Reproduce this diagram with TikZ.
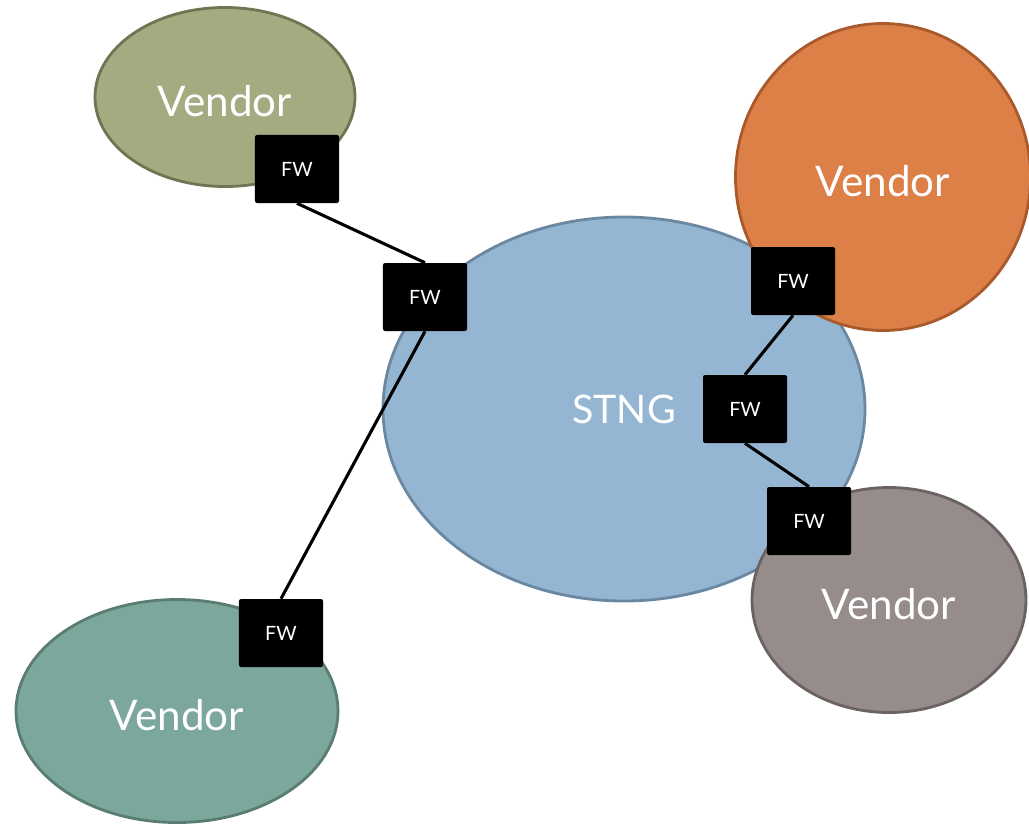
\documentclass[tikz,border=0pt]{standalone}
\usepackage{fontspec}
\setmainfont{Lato}
\usepackage{tikz}
\usetikzlibrary{shapes.geometric}
\usepackage{xcolor}
\definecolor{stngblue}{HTML}{94B6D2}
\definecolor{stngblueline}{HTML}{6B88A2}
\definecolor{olive}{HTML}{A5AB81}
\definecolor{oliveline}{HTML}{6E7552}
\definecolor{pumpkin}{HTML}{DD8047}
\definecolor{pumpkinline}{HTML}{A95A2C}
\definecolor{taupe}{HTML}{968C8C}
\definecolor{taupeline}{HTML}{6B6262}
\definecolor{seagreen}{HTML}{7BA79D}
\definecolor{seagreenline}{HTML}{5A7D72}
\tikzstyle{net}=[ellipse,line width=2pt,inner sep=0,text=white,font=\fontsize{30}{30}\selectfont]
\tikzstyle{stng}=[net,draw=stngblueline,fill=stngblue,font=\fontsize{28}{28}\selectfont]
\tikzstyle{vendor}=[net,label={[text=white,font=\fontsize{30}{30}\selectfont,yshift=-3pt]center:Vendor}]
\tikzstyle{vendor1}=[vendor,draw=oliveline,fill=olive]
\tikzstyle{vendor2}=[vendor,draw=pumpkinline,fill=pumpkin]
\tikzstyle{vendor3}=[vendor,draw=taupeline,fill=taupe]
\tikzstyle{vendor4}=[vendor,draw=seagreenline,fill=seagreen]
\tikzstyle{fw}=[fill=black,text=white,rounded corners=1.5pt,minimum width=2.1cm,minimum height=1.7cm,inner sep=0,font=\fontsize{14}{14}\selectfont]
\tikzstyle{link}=[line width=2.2pt,black]

\begin{document}
\begin{tikzpicture}[x=0.025cm,y=-0.025cm]
		\useasboundingbox (0,0) rectangle (1029,824);
% networks
		\node[stng,minimum width=482*0.025cm,minimum height=384*0.025cm](stng) at (624,409){STNG};
		\node[vendor1,minimum width=260*0.025cm,minimum height=179*0.025cm](v1) at (225,97){};
		\node[vendor2,minimum width=295*0.025cm,minimum height=307*0.025cm](v2) at (883,177){};
		\node[vendor3,minimum width=274*0.025cm,minimum height=225*0.025cm](v3) at (889,600){};
		\node[vendor4,minimum width=322*0.025cm,minimum height=223*0.025cm](v4) at (177,711){};

% firewalls
		\node[fw](fw1) at (297,169){FW};
		\node[fw](fw2) at (425,297){FW};
		\node[fw](fw3) at (793,281){FW};
		\node[fw](fw4) at (745,409){FW};
		\node[fw](fw5) at (809,521){FW};
		\node[fw](fw6) at (281,633){FW};

% links between firewalls
		\draw[link] (fw1.south) -- (fw2.north);
		\draw[link] (fw2.south) -- (fw6.north);
		\draw[link] (fw3.south) -- (fw4.north);
		\draw[link] (fw4.south) -- (fw5.north);
	\end{tikzpicture}
\end{document}
